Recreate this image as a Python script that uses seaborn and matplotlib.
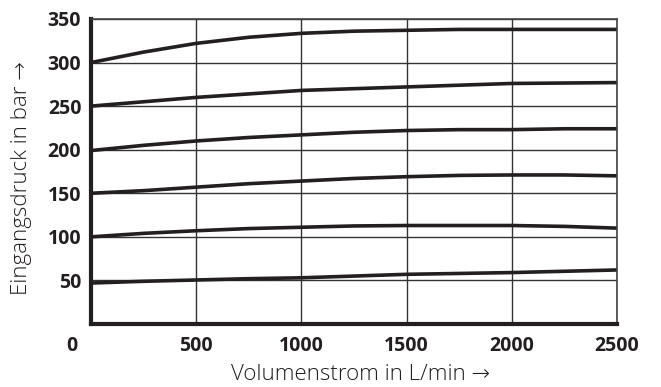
import numpy as np
import pandas as pd
import matplotlib
matplotlib.use('Agg')
import matplotlib.pyplot as plt
import matplotlib.transforms as mtransforms
import seaborn as sns

# Volumenstrom (L/min) und Eingangsdruck (bar)
volumenstrom = [0, 250, 500, 750, 1000, 1250, 1500, 1750, 2000, 2250, 2500]
kurve_300 = [300, 312, 322, 329, 333.5, 336, 337, 338, 338, 338, 338]
kurve_250 = [250, 255, 260, 264, 268, 270, 272, 274, 276, 276.5, 277]
kurve_200 = [199, 205, 210, 214, 217, 220, 222, 223, 223, 224, 224]
kurve_150 = [150, 153, 157, 161, 164, 167, 169, 170.5, 171, 171, 170]
kurve_100 = [100, 104, 107, 109.5, 111, 112.5, 113, 113, 113, 112, 110]
kurve_50 = [47, 49, 50.5, 52, 53, 55, 57, 58, 59, 60.5, 62]

x_ticks = [0, 500, 1000, 1500, 2000, 2500]
y_ticks = [50, 100, 150, 200, 250, 300, 350]

kurven = {'300': kurve_300, '250': kurve_250, '200': kurve_200,
          '150': kurve_150, '100': kurve_100, '50': kurve_50}
df = pd.concat([pd.DataFrame({'volumenstrom': volumenstrom, 'druck': v, 'kurve': k})
                for k, v in kurven.items()], ignore_index=True)

sns.set_style('white')
plt.rcParams['font.family'] = ['Open Sans', 'DejaVu Sans']

schwarz = '#231f20'
fig = plt.figure(figsize=(6.61, 3.87), dpi=100)
ax = fig.add_axes([0.1377, 0.1628, 0.7957, 0.7882])

sns.lineplot(data=df, x='volumenstrom', y='druck', units='kurve', estimator=None,
             color=schwarz, linewidth=2.6, ax=ax, legend=False)

ax.set_xlim(0, 2500)
ax.set_ylim(0, 350)
ax.set_xticks(x_ticks)
ax.set_xticklabels(['0'] + [str(t) for t in x_ticks[1:]])
ax.set_yticks(y_ticks)
ax.set_yticklabels([str(t) for t in y_ticks])
ax.grid(True, color='#333333', linewidth=1.0)
ax.set_axisbelow(True)
ax.tick_params(axis='both', length=0, labelsize=14, colors=schwarz)
ax.tick_params(axis='x', pad=9)
ax.tick_params(axis='y', pad=7)
for lab in ax.get_xticklabels() + ax.get_yticklabels():
    lab.set_fontweight('bold')
# die Null sitzt links unter der Ecke
null = ax.get_xticklabels()[0]
null.set_transform(null.get_transform() + mtransforms.ScaledTranslation(-0.19, 0, fig.dpi_scale_trans))

for s in ['left', 'bottom']:
    ax.spines[s].set_linewidth(3)
    ax.spines[s].set_color(schwarz)
for s in ['top', 'right']:
    ax.spines[s].set_linewidth(1.2)
    ax.spines[s].set_color('#444444')

ax.set_xlabel('Volumenstrom in L/min →', fontsize=16, fontweight='light', color=schwarz)
ax.set_ylabel('Eingangsdruck in bar →', fontsize=16, fontweight='light', color=schwarz)
ax.xaxis.set_label_coords(0.513, -0.13)
ax.yaxis.set_label_coords(-0.112, 0.479)

fig.savefig('out.png', dpi=100)
